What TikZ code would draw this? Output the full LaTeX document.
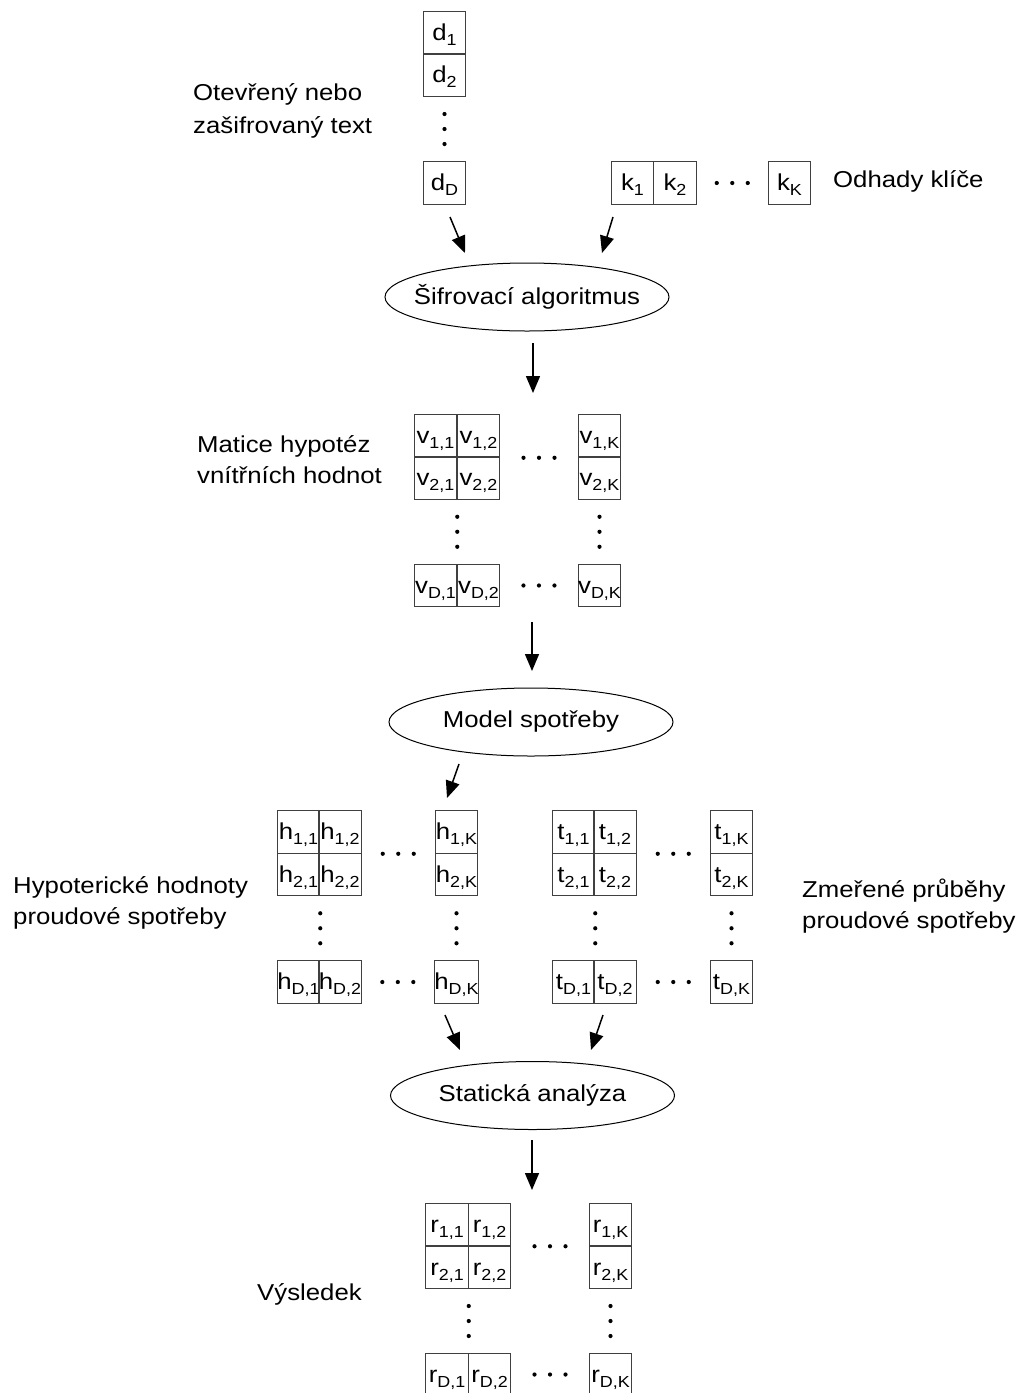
\documentclass[tikz,border=0pt]{standalone}
\usepackage{fontspec}
\setmainfont[FakeStretch=1.12]{Liberation Sans}
\usetikzlibrary{arrows.meta,shapes.geometric,calc}
\newcommand\sbs[1]{\raisebox{-5pt}{\fontsize{16}{16}\selectfont #1}}
\newcommand\hdt[1]{\foreach \o in {-15.5,0,15.5} \fill ([xshift=\o pt]#1) circle (2.1pt);}
\newcommand\vdt[1]{\foreach \o in {-15,0,15} \fill ([yshift=\o pt]#1) circle (2.1pt);}
\newcommand\cellmat[7]{%
  \node[cell] (#111) at (#2,#5) {#1\sbs{1,1}};
  \node[cell] (#112) at (#3,#5) {#1\sbs{1,2}};
  \node[cell] (#11K) at (#4,#5) {#1\sbs{1,K}};
  \node[cell] (#121) at (#2,#6) {#1\sbs{2,1}};
  \node[cell] (#122) at (#3,#6) {#1\sbs{2,2}};
  \node[cell] (#12K) at (#4,#6) {#1\sbs{2,K}};
  \node[cell] (#1D1) at (#2,#7) {#1\sbs{D,1}};
  \node[cell] (#1D2) at (#3,#7) {#1\sbs{D,2}};
  \node[cell] (#1DK) at (#4,#7) {#1\sbs{D,K}};
  \coordinate (#1ha) at ($(#112.south east)!.5!(#11K.south west)$);
  \coordinate (#1hb) at ($(#1D2.east)!.5!(#1DK.west)$);
  \coordinate (#1va) at ($(#121.south east)!.5!(#1D1.north east)$);
  \coordinate (#1vb) at ($(#12K.south)!.5!(#1DK.north)$);
  \hdt{#1ha}\hdt{#1hb}\vdt{#1va}\vdt{#1vb}%
}
\begin{document}
\begin{tikzpicture}[x=1pt,y=-1pt,
  font=\fontsize{23}{23}\selectfont,
  cell/.style={draw=black!75, line width=1pt, minimum width=42.5pt, minimum height=42.5pt,
    inner sep=0pt, text height=18pt, text depth=3pt},
  proc/.style={draw, ellipse, line width=1pt, minimum width=284pt, minimum height=68pt, inner sep=0pt},
  lbl/.style={anchor=base west, inner sep=0pt},
  arr/.style={line width=1.5pt, -{Triangle[length=17pt,width=14pt]}}
]
\useasboundingbox (0,0) rectangle (1023,1393);
\fill[white] (0,0) rectangle (1023,1393);

% input data column
\node[cell] (d1) at (444.5,33) {d\sbs{1}};
\node[cell] (d2) at (444.5,75) {d\sbs{2}};
\node[cell] (dD) at (444.5,183) {d\sbs{D}};
\coordinate (dv) at ($(d2.south)!.5!(dD.north)$);
\vdt{dv}

% key guesses row
\node[cell] (k1) at (632.5,183) {k\sbs{1}};
\node[cell] (k2) at (675,183) {k\sbs{2}};
\node[cell] (kK) at (789.5,183) {k\sbs{K}};
\coordinate (kh) at ($(k2.east)!.5!(kK.west)$);
\hdt{kh}

% labels
\node[lbl] (l1a) at (193,100) {Otevřený nebo};
\node[lbl] (l1b) at (193,133) {zašifrovaný text};
\node[lbl] (l2) at (833,187) {Odhady klíče};
\node[lbl] (l3a) at (197,452) {Matice hypotéz};
\node[lbl] (l3b) at (197,483) {vnítřních hodnot};
\node[lbl] (l4a) at (13,893) {Hypoterické hodnoty};
\node[lbl] (l4b) at (13,924) {proudové spotřeby};
\node[lbl] (l5a) at (802,897) {Zmeřené průběhy};
\node[lbl] (l5b) at (802,928) {proudové spotřeby};
\node[lbl] (l6) at (257,1300) {Výsledek};

% processes
\node[proc, label=center:{Šifrovací algoritmus}] (e1) at (527,297) {};
\node[proc, label=center:{Model spotřeby}] (e2) at (531,722) {};
\node[proc, label=center:{Statická analýza}] (e3) at (532.5,1095.5) {};

% matrices
\cellmat{v}{435.5}{478.5}{599.5}{436}{478}{585.5}
\cellmat{h}{298.5}{340}{456.5}{832}{874.5}{982}
\cellmat{t}{573.5}{615}{731.5}{832}{874.5}{982}
\cellmat{r}{447}{489.5}{610.5}{1224.5}{1267.5}{1374.5}

% connectors
\coordinate (a1s) at (450,217);  \coordinate (a1e) at (465,253);
\coordinate (a2s) at (613,217);  \coordinate (a2e) at (602,253);
\coordinate (a3s) at (533,343);  \coordinate (a3e) at (533,393);
\coordinate (a4s) at (532,622);  \coordinate (a4e) at (532,671);
\coordinate (a5s) at (459,764);  \coordinate (a5e) at (447,798);
\coordinate (a6s) at (445,1015); \coordinate (a6e) at (460,1050);
\coordinate (a7s) at (603,1015); \coordinate (a7e) at (591,1050);
\coordinate (a8s) at (532,1140); \coordinate (a8e) at (532,1190);
\draw[arr] (a1s) -- (a1e);
\draw[arr] (a2s) -- (a2e);
\draw[arr] (a3s) -- (a3e);
\draw[arr] (a4s) -- (a4e);
\draw[arr] (a5s) -- (a5e);
\draw[arr] (a6s) -- (a6e);
\draw[arr] (a7s) -- (a7e);
\draw[arr] (a8s) -- (a8e);
\end{tikzpicture}
\end{document}
